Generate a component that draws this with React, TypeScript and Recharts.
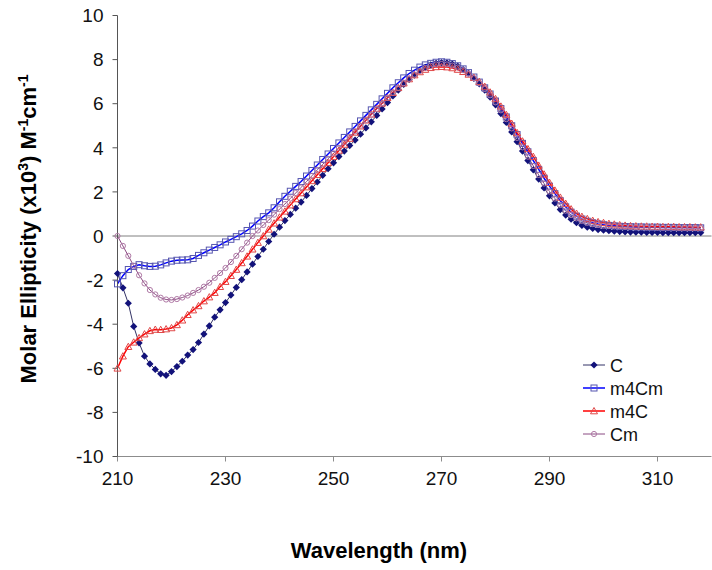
import { LineChart, Line, XAxis, YAxis, ReferenceLine } from "recharts"

const wavelengths = [
    210, 211, 212, 213, 214, 215, 216, 217, 218, 219,
    220, 221, 222, 223, 224, 225, 226, 227, 228, 229,
    230, 231, 232, 233, 234, 235, 236, 237, 238, 239,
    240, 241, 242, 243, 244, 245, 246, 247, 248, 249,
    250, 251, 252, 253, 254, 255, 256, 257, 258, 259,
    260, 261, 262, 263, 264, 265, 266, 267, 268, 269,
    270, 271, 272, 273, 274, 275, 276, 277, 278, 279,
    280, 281, 282, 283, 284, 285, 286, 287, 288, 289,
    290, 291, 292, 293, 294, 295, 296, 297, 298, 299,
    300, 301, 302, 303, 304, 305, 306, 307, 308, 309,
    310, 311, 312, 313, 314, 315, 316, 317, 318,
]

const seriesC = [
    -1.7, -2.35, -3.05, -4.1, -4.85, -5.45, -5.8, -6.05, -6.25, -6.32,
    -6.15, -5.92, -5.68, -5.4, -5.15, -4.83, -4.45, -4.08, -3.68, -3.35,
    -3.02, -2.68, -2.33, -1.98, -1.63, -1.28, -0.93, -0.6, -0.25, 0.08,
    0.4, 0.7, 0.98, 1.26, 1.54, 1.84, 2.15, 2.45, 2.75, 3.05,
    3.32, 3.6, 3.85, 4.1, 4.35, 4.62, 4.9, 5.18, 5.47, 5.76,
    6.05, 6.35, 6.62, 6.88, 7.1, 7.3, 7.5, 7.65, 7.76, 7.83,
    7.86, 7.85, 7.8, 7.7, 7.55, 7.38, 7.15, 6.9, 6.62, 6.3,
    5.95, 5.55, 5.15, 4.72, 4.28, 3.85, 3.42, 3.0, 2.58, 2.18,
    1.82, 1.5, 1.2, 0.95, 0.76, 0.6, 0.48, 0.4, 0.34, 0.29,
    0.26, 0.24, 0.22, 0.2, 0.19, 0.18, 0.17, 0.17, 0.16, 0.16,
    0.16, 0.15, 0.15, 0.15, 0.15, 0.15, 0.15, 0.15, 0.15,
]

const seriesM4Cm = [
    -2.17, -1.8, -1.52, -1.38, -1.3, -1.35, -1.38, -1.37, -1.31, -1.22,
    -1.14, -1.1, -1.09, -1.08, -1.02, -0.88, -0.76, -0.64, -0.52, -0.4,
    -0.27, -0.15, -0.03, 0.1, 0.25, 0.45, 0.68, 0.88, 1.05, 1.28,
    1.55, 1.8, 2.03, 2.25, 2.47, 2.72, 2.97, 3.22, 3.47, 3.72,
    3.97, 4.22, 4.47, 4.72, 4.97, 5.22, 5.47, 5.72, 5.97, 6.22,
    6.47, 6.72, 6.95, 7.17, 7.37, 7.52, 7.66, 7.76, 7.83, 7.88,
    7.9, 7.88, 7.82, 7.72, 7.58, 7.41, 7.21, 6.98, 6.72, 6.44,
    6.12, 5.78, 5.4, 5.0, 4.6, 4.2, 3.82, 3.42, 3.02, 2.62,
    2.26, 1.92, 1.6, 1.32, 1.08, 0.9, 0.77, 0.67, 0.6, 0.55,
    0.51, 0.48, 0.46, 0.44, 0.43, 0.42, 0.41, 0.41, 0.4, 0.4,
    0.4, 0.39, 0.39, 0.39, 0.38, 0.38, 0.38, 0.38, 0.37,
]

const seriesM4C = [
    -6.0, -5.45, -5.02, -4.82, -4.62, -4.45, -4.3, -4.24, -4.25, -4.22,
    -4.17, -4.03, -3.82, -3.57, -3.36, -3.17, -2.95, -2.77, -2.57, -2.3,
    -2.07, -1.8, -1.52, -1.22, -0.92, -0.6, -0.3, 0.0, 0.3, 0.58,
    0.85, 1.12, 1.4, 1.68, 1.95, 2.22, 2.5, 2.78, 3.05, 3.32,
    3.6, 3.88, 4.15, 4.42, 4.7, 4.98, 5.25, 5.52, 5.78, 6.02,
    6.27, 6.5, 6.72, 6.93, 7.12, 7.3, 7.44, 7.55, 7.63, 7.67,
    7.68, 7.66, 7.62, 7.55, 7.45, 7.33, 7.18, 7.0, 6.78, 6.52,
    6.22, 5.88, 5.5, 5.1, 4.68, 4.3, 3.95, 3.6, 3.2, 2.8,
    2.42, 2.07, 1.75, 1.47, 1.22, 1.02, 0.88, 0.78, 0.7, 0.64,
    0.6, 0.56, 0.53, 0.5, 0.48, 0.46, 0.45, 0.44, 0.44, 0.43,
    0.43, 0.42, 0.42, 0.42, 0.41, 0.41, 0.41, 0.4, 0.4,
]

const seriesCm = [
    0, -0.45, -0.9, -1.35, -1.78, -2.15, -2.45, -2.65, -2.8, -2.88,
    -2.9, -2.86, -2.79, -2.7, -2.58, -2.45, -2.3, -2.12, -1.9, -1.68,
    -1.45, -1.18, -0.9, -0.6, -0.3, 0.0, 0.25, 0.5, 0.72, 0.97,
    1.22, 1.45, 1.7, 1.95, 2.2, 2.47, 2.73, 3.0, 3.25, 3.5,
    3.75, 4.0, 4.25, 4.5, 4.75, 5.0, 5.25, 5.5, 5.76, 6.02,
    6.27, 6.5, 6.72, 6.93, 7.13, 7.32, 7.48, 7.62, 7.72, 7.78,
    7.8, 7.78, 7.73, 7.64, 7.52, 7.36, 7.16, 6.93, 6.67, 6.38,
    6.06, 5.7, 5.3, 4.88, 4.45, 4.02, 3.6, 3.18, 2.77, 2.38,
    2.02, 1.7, 1.41, 1.15, 0.95, 0.8, 0.69, 0.6, 0.54, 0.5,
    0.47, 0.45, 0.44, 0.43, 0.42, 0.41, 0.4, 0.4, 0.39, 0.39,
    0.38, 0.38, 0.38, 0.37, 0.37, 0.37, 0.36, 0.36, 0.36,
]

const xTicks = [210, 230, 250, 270, 290, 310]
const yTicks = [-10, -8, -6, -4, -2, 0, 2, 4, 6, 8, 10]

const data = wavelengths.map((nm, i) => ({
    nm,
    C: seriesC[i],
    m4Cm: seriesM4Cm[i],
    m4C: seriesM4C[i],
    Cm: seriesCm[i],
}))

const FONT = "Arial, 'Liberation Sans', sans-serif"

type Mark = "diamond" | "square" | "triangle" | "circle"

function Marker({ kind, cx, cy }: { kind: Mark; cx: number; cy: number }) {
    if (kind === "diamond") {
        return <path d={`M${cx},${cy - 3.6}L${cx + 3.6},${cy}L${cx},${cy + 3.6}L${cx - 3.6},${cy}Z`} fill="#12127a" />
    }
    if (kind === "square") {
        return <rect x={cx - 3} y={cy - 3} width={6} height={6} fill="none" stroke="#5555b0" strokeWidth={1} />
    }
    if (kind === "triangle") {
        return <path d={`M${cx},${cy - 3.5}L${cx + 3.5},${cy + 2.8}L${cx - 3.5},${cy + 2.8}Z`} fill="none" stroke="#e04848" strokeWidth={1} />
    }
    return <circle cx={cx} cy={cy} r={2.6} fill="none" stroke="#b07aa6" strokeWidth={1} />
}

const dotFor = (kind: Mark) => (p: any) => {
    if (p.cx == null || p.cy == null) return <g key={`n${p.index}`} />
    return <Marker key={`${kind}${p.index}`} kind={kind} cx={p.cx} cy={p.cy} />
}

const legendItems: { name: string; color: string; kind: Mark; width: number }[] = [
    { name: "C", color: "#333366", kind: "diamond", width: 1 },
    { name: "m4Cm", color: "#0000ff", kind: "square", width: 1.5 },
    { name: "m4C", color: "#ff0000", kind: "triangle", width: 1.5 },
    { name: "Cm", color: "#8a4a82", kind: "circle", width: 1 },
]

function LegendBox() {
    return (
        <svg width={110} height={100} style={{ position: "absolute", left: 575, top: 353 }}>
            {legendItems.map((it, i) => {
                const y = 12 + i * 23
                return (
                    <g key={it.name}>
                        <line x1={8} x2={30} y1={y} y2={y} stroke={it.color} strokeWidth={it.width} />
                        <Marker kind={it.kind} cx={19} cy={y} />
                        <text x={35} y={y + 6.5} fontSize={18} fontFamily={FONT} fill="#111">{it.name}</text>
                    </g>
                )
            })}
        </svg>
    )
}

const YTitle = () => (
    <text
        transform="translate(36,229) rotate(-90)"
        textAnchor="middle"
        fontSize={22}
        fontWeight="bold"
        fontFamily={FONT}
        fill="#000"
    >
        Molar Ellipticity (x10<tspan dy={-8} fontSize={14}>3</tspan>
        <tspan dy={8}>) M</tspan><tspan dy={-8} fontSize={14}>-1</tspan>
        <tspan dy={8}>cm</tspan><tspan dy={-8} fontSize={14}>-1</tspan>
    </text>
)

const XTitle = () => (
    <text x={379} y={558} textAnchor="middle" fontSize={22} fontWeight="bold" fontFamily={FONT} fill="#000">
        Wavelength (nm)
    </text>
)

export default function App() {
    return (
        <div style={{ position: "absolute", left: 0, top: 0, width: 712, height: 570, background: "#fff" }}>
            <LineChart width={712} height={570} data={data} margin={{ top: 15.5, right: 0.5, left: 0, bottom: 0 }}>
                <XAxis
                    type="number"
                    dataKey="nm"
                    domain={[210, 320]}
                    ticks={xTicks}
                    interval={0}
                    height={113.5}
                    stroke="#8c8c8c"
                    tickSize={5}
                    tickMargin={10}
                    tick={{ fill: "#111", fontSize: 19, fontFamily: FONT }}
                    label={{ content: () => <XTitle /> }}
                />
                <YAxis
                    type="number"
                    domain={[-10, 10]}
                    ticks={yTicks}
                    interval={0}
                    width={117.5}
                    stroke="#555"
                    tickSize={5}
                    tickMargin={9}
                    tick={{ fill: "#111", fontSize: 19, fontFamily: FONT }}
                    label={{ content: () => <YTitle /> }}
                />
                <ReferenceLine y={0} stroke="#808080" strokeWidth={1} />
                <Line type="linear" dataKey="C" stroke="#333366" strokeWidth={1} dot={dotFor("diamond")} isAnimationActive={false} />
                <Line type="linear" dataKey="m4Cm" stroke="#0000ff" strokeWidth={1.5} dot={dotFor("square")} isAnimationActive={false} />
                <Line type="linear" dataKey="m4C" stroke="#ff0000" strokeWidth={1.5} dot={dotFor("triangle")} isAnimationActive={false} />
                <Line type="linear" dataKey="Cm" stroke="#8a4a82" strokeWidth={1} dot={dotFor("circle")} isAnimationActive={false} />
            </LineChart>
            <LegendBox />
        </div>
    )
}
